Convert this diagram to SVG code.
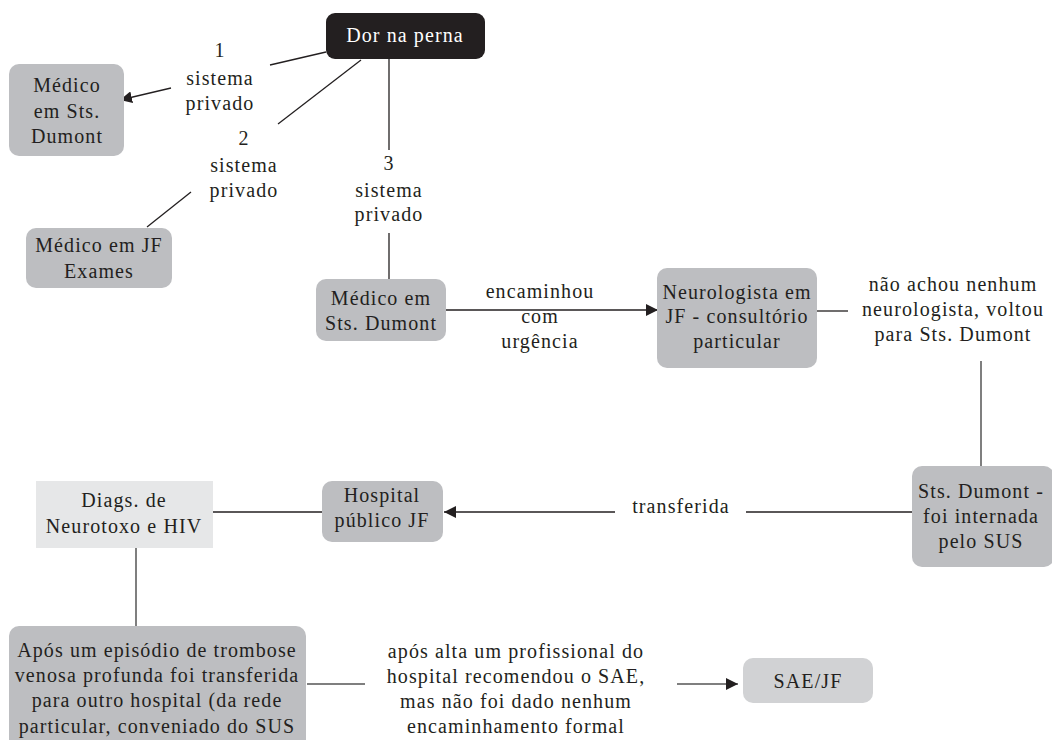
<svg xmlns="http://www.w3.org/2000/svg" width="1052" height="740" viewBox="0 0 1052 740">
<defs>
<style>
.t{font-size:20px;letter-spacing:1.1px;fill:#231f20;text-anchor:middle}
.w{font-size:20px;letter-spacing:1.1px;fill:#ffffff;text-anchor:middle}
.n{fill:#bdbec1}
.ln{stroke:#231f20;stroke-width:1.3;fill:none}
.g{stroke:#555555;stroke-width:1.5;fill:none}
</style>
<marker id="ah" viewBox="0 0 10 10" refX="10" refY="5" markerWidth="12" markerHeight="12" markerUnits="userSpaceOnUse" orient="auto">
<path d="M0,0 L10,5 L0,10 z" fill="#231f20"/>
</marker>
</defs>
<rect width="1052" height="740" fill="#fff"/>
<g id="connectors">
<line class="ln" x1="326" y1="52" x2="270" y2="65"/>
<line class="ln" x1="171" y1="88" x2="120" y2="100" marker-end="url(#ah)"/>
<line class="ln" x1="361" y1="60" x2="278" y2="124"/>
<line class="ln" x1="191" y1="192" x2="147" y2="227"/>
<line class="ln" x1="389" y1="59" x2="389" y2="150"/>
<line class="ln" x1="389" y1="233" x2="389" y2="279"/>
<line class="ln" x1="446" y1="310" x2="658" y2="310" marker-end="url(#ah)"/>
<line class="ln" x1="817" y1="311" x2="848" y2="311"/>
<line class="g" x1="981" y1="361" x2="981" y2="466"/>
<line class="ln" x1="912" y1="512" x2="746" y2="512"/>
<line class="ln" x1="615" y1="512" x2="444" y2="512" marker-end="url(#ah)"/>
<line class="ln" x1="322" y1="512" x2="213" y2="512"/>
<line class="g" x1="136" y1="548" x2="136" y2="626"/>
<line class="g" x1="307" y1="684" x2="365" y2="684"/>
<line class="g" x1="677" y1="684" x2="738" y2="684" marker-end="url(#ah)"/>
<text class="t" font-family="'Liberation Serif', serif" x="220" y="57">1</text><text class="t" font-family="'Liberation Serif', serif" x="220" y="85">sistema</text><text class="t" font-family="'Liberation Serif', serif" x="220" y="110">privado</text>
<text class="t" font-family="'Liberation Serif', serif" x="244" y="145">2</text><text class="t" font-family="'Liberation Serif', serif" x="244" y="172">sistema</text><text class="t" font-family="'Liberation Serif', serif" x="244" y="197">privado</text>
<text class="t" font-family="'Liberation Serif', serif" x="389" y="170">3</text><text class="t" font-family="'Liberation Serif', serif" x="389" y="197">sistema</text><text class="t" font-family="'Liberation Serif', serif" x="389" y="221">privado</text>
<text class="t" font-family="'Liberation Serif', serif" x="540" y="298">encaminhou</text><text class="t" font-family="'Liberation Serif', serif" x="540" y="323">com</text><text class="t" font-family="'Liberation Serif', serif" x="540" y="348">urgência</text>
<text class="t" font-family="'Liberation Serif', serif" x="953" y="291">não achou nenhum</text><text class="t" font-family="'Liberation Serif', serif" x="953" y="316">neurologista, voltou</text><text class="t" font-family="'Liberation Serif', serif" x="953" y="341">para Sts. Dumont</text>
<text class="t" font-family="'Liberation Serif', serif" x="681" y="513">transferida</text>
<text class="t" font-family="'Liberation Serif', serif" x="516" y="658">após alta um profissional do</text><text class="t" font-family="'Liberation Serif', serif" x="516" y="683">hospital recomendou o SAE,</text><text class="t" font-family="'Liberation Serif', serif" x="516" y="708">mas não foi dado nenhum</text><text class="t" font-family="'Liberation Serif', serif" x="516" y="733">encaminhamento formal</text>
</g>
<g id="dor">
<rect x="326" y="13" width="159" height="46" rx="9" fill="#231f20"/>
<text class="w" font-family="'Liberation Serif', serif" x="405" y="42">Dor na perna</text>
</g>
<g id="medico-sts-1">
<rect class="n" x="9" y="64" width="115" height="92" rx="10"/>
<text class="t" font-family="'Liberation Serif', serif" x="67" y="92">Médico</text><text class="t" font-family="'Liberation Serif', serif" x="67" y="118">em Sts.</text><text class="t" font-family="'Liberation Serif', serif" x="67" y="143">Dumont</text>
</g>
<g id="medico-jf">
<rect class="n" x="26" y="228" width="146" height="60" rx="10"/>
<text class="t" font-family="'Liberation Serif', serif" x="99" y="252">Médico em JF</text><text class="t" font-family="'Liberation Serif', serif" x="99" y="278">Exames</text>
</g>
<g id="medico-sts-3">
<rect class="n" x="316" y="279" width="130" height="62" rx="10"/>
<text class="t" font-family="'Liberation Serif', serif" x="381" y="305">Médico em</text><text class="t" font-family="'Liberation Serif', serif" x="381" y="330">Sts. Dumont</text>
</g>
<g id="neurologista">
<rect class="n" x="657" y="268" width="160" height="100" rx="10"/>
<text class="t" font-family="'Liberation Serif', serif" x="737" y="299">Neurologista em</text><text class="t" font-family="'Liberation Serif', serif" x="737" y="323">JF - consultório</text><text class="t" font-family="'Liberation Serif', serif" x="737" y="348">particular</text>
</g>
<g id="sts-internada">
<rect class="n" x="912" y="466" width="142" height="101" rx="10"/>
<text class="t" font-family="'Liberation Serif', serif" x="981" y="498">Sts. Dumont -</text><text class="t" font-family="'Liberation Serif', serif" x="981" y="523">foi internada</text><text class="t" font-family="'Liberation Serif', serif" x="981" y="548">pelo SUS</text>
</g>
<g id="hospital-publico">
<rect class="n" x="322" y="481" width="121" height="61" rx="10"/>
<text class="t" font-family="'Liberation Serif', serif" x="382" y="502">Hospital</text><text class="t" font-family="'Liberation Serif', serif" x="382" y="527">público JF</text>
</g>
<g id="diags">
<rect x="36" y="481" width="177" height="67" fill="#e6e7e8"/>
<text class="t" font-family="'Liberation Serif', serif" x="124" y="507">Diags. de</text><text class="t" font-family="'Liberation Serif', serif" x="124" y="533">Neurotoxo e HIV</text>
</g>
<g id="apos">
<rect class="n" x="9" y="626" width="297" height="130" rx="10"/>
<text class="t" font-family="'Liberation Serif', serif" x="157" y="657">Após um episódio de trombose</text><text class="t" font-family="'Liberation Serif', serif" x="157" y="682">venosa profunda foi transferida</text><text class="t" font-family="'Liberation Serif', serif" x="157" y="707">para outro hospital (da rede</text><text class="t" font-family="'Liberation Serif', serif" x="157" y="733">particular, conveniado do SUS</text>
</g>
<g id="sae">
<rect x="743" y="658" width="130" height="45" rx="10" fill="#d1d2d4"/>
<text class="t" font-family="'Liberation Serif', serif" x="808" y="688">SAE/JF</text>
</g>
</svg>
